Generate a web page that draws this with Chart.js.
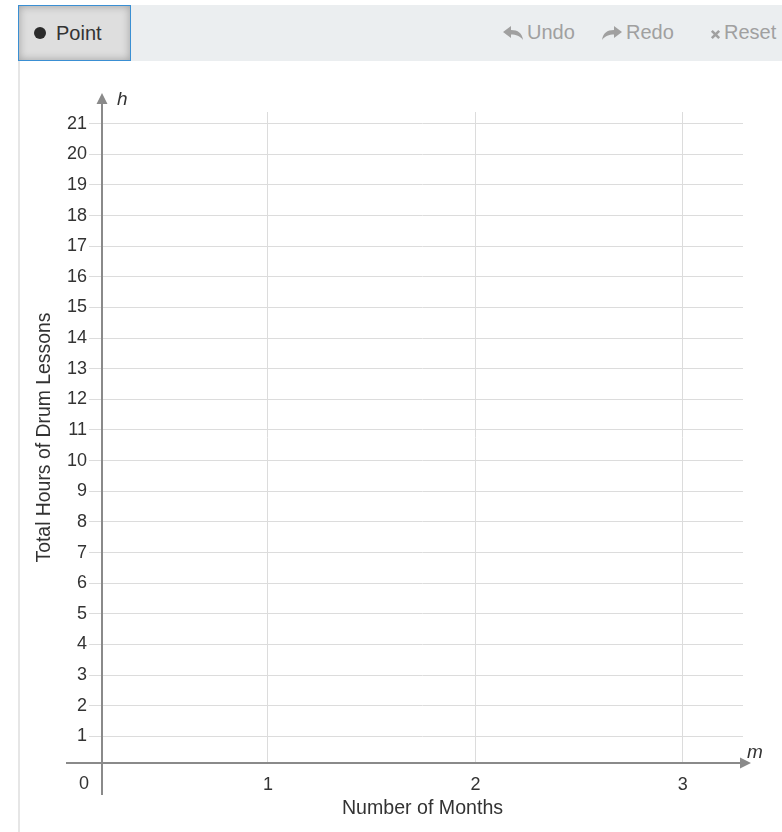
<!DOCTYPE html>
<html>
<head>
<meta charset="utf-8">
<script src="https://cdn.jsdelivr.net/npm/chart.js@4"></script>
<style>
  html, body { margin: 0; padding: 0; background: #fff; }
  body { width: 782px; height: 832px; position: relative; overflow: hidden; font-family: "Liberation Sans", Arial, sans-serif; }
  #frame { position: absolute; left: 18px; top: 61px; width: 0; height: 771px; border-left: 2px solid #e6e6e6; }
  #toolbar { position: absolute; left: 18px; top: 5px; width: 764px; height: 56px; background: #ebeef0; }
  #point-btn { position: absolute; left: 0; top: 0; width: 111px; height: 54px; border: 1px solid #3a8fd3;
               background: #dedede; box-shadow: inset 0 0 9px rgba(0,0,0,0.28); }
  #point-btn .dot { position: absolute; left: 15px; top: 21px; width: 12px; height: 12px; border-radius: 50%; background: #2b2b2b; }
  #point-btn .lbl { position: absolute; left: 37px; top: 16px; font-size: 20px; color: #333; }
  .tool { position: absolute; top: 16px; font-size: 20px; color: #a0a0a0; white-space: nowrap; }
  .tool svg { vertical-align: -1px; margin-right: 4px; }
  #cv { position: absolute; left: 0; top: 0; }
</style>
</head>
<body>
<div id="frame"></div>
<div id="toolbar">
  <div class="tool" style="left:485px">
    <svg width="20" height="14" viewBox="0 0 20 14"><path d="M0 6 L8 0 L8 4 C15 4 19 7 20 14 C17 10 13 8.5 8 8.5 L8 12 Z" fill="#a0a0a0"/></svg>Undo</div>
  <div class="tool" style="left:584px">
    <svg width="20" height="14" viewBox="0 0 20 14"><path d="M20 6 L12 0 L12 4 C5 4 1 7 0 14 C3 10 7 8.5 12 8.5 L12 12 Z" fill="#a0a0a0"/></svg>Redo</div>
  <div class="tool" style="left:692px">
    <svg width="11" height="11" viewBox="0 0 12 12" style="margin-right:3px"><path d="M2 2 L10 10 M10 2 L2 10" stroke="#a0a0a0" stroke-width="2.8"/></svg>Reset</div>
  <div id="point-btn"><div class="dot"></div><div class="lbl">Point</div></div>
</div>
<canvas id="cv" width="782" height="832"></canvas>
<script>
// ====== Graph data ======
const monthTicks = [1, 2, 3];
const hourTicks = [1, 2, 3, 4, 5, 6, 7, 8, 9, 10, 11, 12, 13, 14, 15, 16, 17, 18, 19, 20, 21];
const xRange = [0.2, 3.29];      // visible months
const yRange = [0.13, 21.38];    // visible hours
const xTitle = "Number of Months";
const yTitle = "Total Hours of Drum Lessons";
const xVar = "m";
const yVar = "h";
const plotted = [];              // no points placed yet

const axisColor = "#8a8a8a";
const textColor = "#333";
const fontFam = '"Liberation Sans", Arial, sans-serif';

// axes with arrow heads + variable names + corner zero
const axesPlugin = {
  id: 'axes',
  afterDraw(chart) {
    const c = chart.ctx;
    const x = chart.scales.x, y = chart.scales.y;
    const ox = x.getPixelForValue(xRange[0]);
    const oy = y.getPixelForValue(yRange[0]);
    const xEnd = x.getPixelForValue(xRange[1]) + 8;
    const yEnd = y.getPixelForValue(yRange[1]) - 19;
    c.save();
    c.strokeStyle = axisColor;
    c.fillStyle = axisColor;
    c.lineWidth = 2;
    c.beginPath();
    c.moveTo(ox - 36, oy); c.lineTo(xEnd - 6, oy);
    c.moveTo(ox, oy + 32); c.lineTo(ox, yEnd + 6);
    c.stroke();
    // arrow heads
    c.beginPath();
    c.moveTo(xEnd, oy); c.lineTo(xEnd - 11, oy - 5.5); c.lineTo(xEnd - 11, oy + 5.5); c.closePath();
    c.moveTo(ox, yEnd); c.lineTo(ox - 5.5, yEnd + 11); c.lineTo(ox + 5.5, yEnd + 11); c.closePath();
    c.fill();
    c.fillStyle = textColor;
    c.font = 'italic 19px ' + fontFam;
    c.textAlign = 'left';
    c.textBaseline = 'alphabetic';
    c.fillText(yVar, ox + 15, yEnd + 12);
    c.fillText(xVar, xEnd - 4, oy - 5);
    c.font = '18px ' + fontFam;
    c.textAlign = 'center';
    c.textBaseline = 'middle';
    c.fillText('0', ox - 18, oy + 21);
    c.restore();
  }
};

new Chart(document.getElementById('cv'), {
  type: 'scatter',
  data: { datasets: [{ data: plotted, pointRadius: 6, backgroundColor: '#333' }] },
  options: {
    responsive: false,
    animation: false,
    layout: { padding: { left: 30, top: 112, right: 39, bottom: 12 } },
    plugins: { legend: { display: false }, tooltip: { enabled: false } },
    scales: {
      x: {
        type: 'linear', min: xRange[0], max: xRange[1],
        afterBuildTicks: s => { s.ticks = monthTicks.map(v => ({ value: v })); },
        afterFit: s => { s.height = 57; },
        border: { display: false },
        grid: { color: '#dcdcdc', lineWidth: 1, drawTicks: false },
        ticks: { padding: 11, color: textColor, font: { size: 18, family: fontFam } },
        title: { display: true, text: xTitle, color: textColor, padding: 0,
                 font: { size: 19.6, family: fontFam } }
      },
      y: {
        type: 'linear', min: yRange[0], max: yRange[1],
        afterBuildTicks: s => { s.ticks = hourTicks.map(v => ({ value: v })); },
        afterFit: s => { s.width = 72; },
        border: { display: false },
        grid: { color: '#dcdcdc', lineWidth: 1, tickLength: 13 },
        ticks: { padding: 2, color: textColor, font: { size: 18, family: fontFam } },
        title: { display: true, text: yTitle, color: textColor, padding: { top: 3, bottom: 0 },
                 font: { size: 19.4, family: fontFam } }
      }
    }
  },
  plugins: [axesPlugin]
});
</script>
</body>
</html>
